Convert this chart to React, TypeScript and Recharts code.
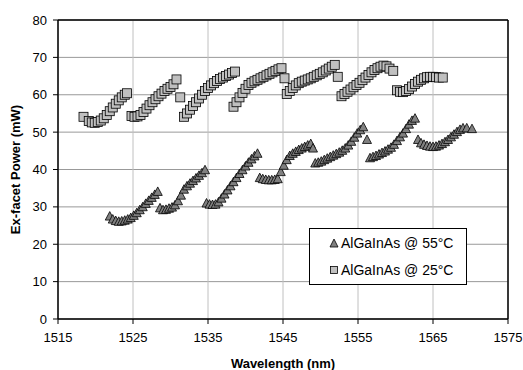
import React from "react";
import {
  ScatterChart,
  Scatter,
  XAxis,
  YAxis,
  CartesianGrid,
  Legend,
  ReferenceLine,
} from "recharts";

// wavelength (nm) / ex-facet power (mW)
const wl25 = [
  1518.4, 1519.1, 1519.5, 1519.9, 1520.3, 1520.7, 1521.1, 1521.5, 1521.9, 1522.3, 1522.7, 1523.1, 1523.5, 1523.9, 1524.2,
  1524.8, 1525.2, 1525.6, 1526.0, 1526.4, 1526.8, 1527.2, 1527.6, 1528.0, 1528.4, 1528.8, 1529.2, 1529.6, 1530.0, 1530.4, 1530.8, 1531.3,
  1531.8, 1532.2, 1532.6, 1533.0, 1533.4, 1533.8, 1534.2, 1534.6, 1535.0, 1535.4, 1535.8, 1536.2, 1536.6, 1537.0, 1537.4, 1537.8, 1538.2, 1538.6,
  1538.4, 1538.8, 1539.2, 1539.6, 1540.0, 1540.4, 1540.8, 1541.2, 1541.6, 1542.0, 1542.4, 1542.8, 1543.2, 1543.6, 1544.0, 1544.4, 1544.8, 1545.2,
  1545.5, 1545.9, 1546.3, 1546.7, 1547.1, 1547.5, 1547.9, 1548.3, 1548.7, 1549.1, 1549.5, 1549.9, 1550.3, 1550.7, 1551.1, 1551.5, 1551.9, 1552.3,
  1552.8, 1553.2, 1553.6, 1554.0, 1554.4, 1554.8, 1555.2, 1555.6, 1556.0, 1556.4, 1556.8, 1557.2, 1557.6, 1558.0, 1558.4, 1558.8, 1559.2, 1559.7,
  1560.2, 1560.6, 1561.0, 1561.4, 1561.8, 1562.2, 1562.6, 1563.0, 1563.4, 1563.8, 1564.2, 1564.6, 1565.0, 1565.4, 1565.8, 1566.3,
];
const p25 = [
  54.1, 53.0, 52.6, 52.5, 52.7, 53.1, 53.7, 54.6, 55.6, 56.6, 57.6, 58.5, 59.3, 60.0, 60.4,
  54.3, 54.1, 54.2, 54.6, 55.4, 56.3, 57.2, 58.0, 58.8, 59.6, 60.3, 61.0, 61.6, 62.1, 62.8, 64.1, 59.3,
  54.1, 55.0, 56.0, 57.0, 58.0, 59.0, 60.0, 61.0, 61.8, 62.5, 63.1, 63.7, 64.2, 64.6, 65.0, 65.4, 65.8, 66.2,
  56.8, 58.0, 59.3, 60.5, 61.6, 62.6, 63.2, 63.6, 64.0, 64.4, 64.8, 65.2, 65.6, 66.0, 66.4, 66.8, 67.1, 64.4,
  60.2, 61.0, 61.8, 62.5, 63.1, 63.5, 63.8, 64.1, 64.4, 64.8, 65.2, 65.6, 66.0, 66.5, 67.0, 67.5, 68.0, 64.8,
  59.6, 60.2, 60.8, 61.4, 62.0, 62.6, 63.2, 63.9, 64.6, 65.3, 66.0, 66.6, 67.1, 67.5, 67.8, 67.6, 67.0, 66.4,
  61.2, 60.8, 60.7, 61.0, 61.5, 62.2, 62.9, 63.5, 64.0, 64.4, 64.7, 64.8, 64.8, 64.7, 64.6, 64.6,
];

const wl55 = [
  1521.9, 1522.3, 1522.7, 1523.1, 1523.5, 1523.9, 1524.3, 1524.7, 1525.1, 1525.5, 1525.9, 1526.3, 1526.7, 1527.1, 1527.5, 1527.9, 1528.3,
  1528.6, 1529.0, 1529.4, 1529.8, 1530.2, 1530.6, 1531.0, 1531.4, 1531.8, 1532.2, 1532.6, 1533.0, 1533.4, 1533.8, 1534.2, 1534.6,
  1534.8, 1535.2, 1535.6, 1536.0, 1536.4, 1536.8, 1537.2, 1537.6, 1538.0, 1538.4, 1538.8, 1539.2, 1539.6, 1540.0, 1540.4, 1540.8, 1541.2, 1541.6,
  1541.9, 1542.3, 1542.7, 1543.1, 1543.5, 1543.9, 1544.3, 1544.7, 1545.1, 1545.5, 1545.9, 1546.3, 1546.7, 1547.1, 1547.5, 1547.9, 1548.3, 1548.7, 1549.0,
  1549.3, 1549.7, 1550.1, 1550.5, 1550.9, 1551.3, 1551.7, 1552.1, 1552.5, 1552.9, 1553.3, 1553.7, 1554.1, 1554.5, 1554.9, 1555.3, 1555.7, 1556.2,
  1556.6, 1557.0, 1557.4, 1557.8, 1558.2, 1558.6, 1559.0, 1559.4, 1559.8, 1560.2, 1560.6, 1561.0, 1561.4, 1561.8, 1562.2, 1562.6,
  1563.0, 1563.4, 1563.8, 1564.2, 1564.6, 1565.0, 1565.4, 1565.8, 1566.2, 1566.6, 1567.0, 1567.4, 1567.8, 1568.2, 1568.6, 1569.0, 1569.5, 1570.2,
];
const p55 = [
  27.4, 26.6, 26.2, 26.0, 26.1, 26.3, 26.6, 27.0, 27.6, 28.3, 29.1, 29.9, 30.8, 31.6, 32.4, 33.2, 34.0,
  29.6, 29.1, 29.2, 29.5, 29.8, 30.4, 31.5, 33.0, 34.6, 35.5, 36.2, 36.9, 37.6, 38.3, 39.0, 39.8,
  30.9, 30.6, 30.5, 30.6, 31.2, 32.2, 33.3, 34.4, 35.5, 36.6, 37.7, 38.8, 39.8, 40.8, 41.8, 42.7, 43.5, 44.2,
  37.7, 37.4, 37.2, 37.1, 37.1, 37.2, 37.4, 39.3, 41.0, 42.5, 43.6, 44.2, 44.7, 45.2, 45.6, 46.0, 46.4, 46.8, 45.6,
  41.6, 41.8, 42.1, 42.5, 42.9, 43.3, 43.7, 44.1, 44.5, 45.0, 45.6, 46.4, 47.4, 48.5, 49.6, 50.5, 51.3, 47.9,
  43.0, 43.3, 43.6, 44.0, 44.4, 44.8, 45.3, 45.8, 46.6, 47.6, 48.6, 49.6, 50.8, 52.0, 53.0, 53.6,
  47.9, 47.0, 46.6, 46.3, 46.1, 46.0, 46.1, 46.4, 46.8, 47.3, 47.9, 48.6, 49.3, 50.0, 50.6, 51.0, 51.0, 50.8,
];

const xTicks = [1515, 1525, 1535, 1545, 1555, 1565, 1575];
const yTicks = [0, 10, 20, 30, 40, 50, 60, 70, 80];

const data25 = wl25.map((x, i) => ({ x, y: p25[i] }));
const data55 = wl55.map((x, i) => ({ x, y: p55[i] }));

const FONT = "'Liberation Sans', Arial, sans-serif";

const SquareDot = (props: any) => {
  const { cx, cy } = props;
  if (cx == null || cy == null) return null;
  return (
    <rect x={cx - 4.5} y={cy - 4.5} width={9} height={9} fill="#c0c0c0" stroke="#000" strokeWidth={0.8} />
  );
};

const TriangleDot = (props: any) => {
  const { cx, cy } = props;
  if (cx == null || cy == null) return null;
  return (
    <path
      d={`M${cx},${cy - 5} L${cx + 4.5},${cy + 3.5} L${cx - 4.5},${cy + 3.5} Z`}
      fill="#808080"
      stroke="#000"
      strokeWidth={0.8}
    />
  );
};

const renderLegend = () => (
  <div
    style={{
      width: 158,
      height: 57,
      border: "1px solid #000",
      background: "#fff",
      fontFamily: FONT,
      fontSize: 14,
      color: "#000",
      boxSizing: "border-box",
      paddingLeft: 19,
      paddingTop: 4,
    }}
  >
    <div style={{ display: "flex", alignItems: "center", height: 20 }}>
      <svg width={10} height={10} style={{ marginRight: 2 }}>
        <path d="M5,1 L9,9 L1,9 Z" fill="#808080" stroke="#000" strokeWidth={0.8} />
      </svg>
      AlGaInAs @ 55°C
    </div>
    <div style={{ display: "flex", alignItems: "center", height: 20, marginTop: 7 }}>
      <svg width={10} height={10} style={{ marginRight: 2 }}>
        <rect x={1.5} y={1.5} width={7} height={7} fill="#c0c0c0" stroke="#000" strokeWidth={0.8} />
      </svg>
      AlGaInAs @ 25°C
    </div>
  </div>
);

export default function App() {
  return (
    <div style={{ position: "absolute", left: 0, top: 0, width: 523, height: 370, background: "#fff" }}>
      <ScatterChart
        width={523}
        height={370}
        margin={{ top: 20, right: 15, bottom: 0, left: 0 }}
        style={{ fontFamily: FONT }}
      >
        <CartesianGrid horizontal={true} vertical={false} stroke="#999" />
        <CartesianGrid horizontal={false} vertical={true} stroke="#c0c0c0" />
        <XAxis
          type="number"
          dataKey="x"
          domain={[1515, 1575]}
          ticks={xTicks}
          allowDataOverflow
          height={51}
          tickSize={5}
          tickMargin={9}
          tick={{ fontSize: 13, fill: "#000" }}
          axisLine={{ stroke: "#000", strokeWidth: 1.5 }}
          tickLine={{ stroke: "#000" }}
          label={{
            value: "Wavelength (nm)",
            position: "insideBottom",
            offset: 2,
            style: { fontSize: 13, fontWeight: "bold", fill: "#000" },
          }}
        />
        <YAxis
          type="number"
          dataKey="y"
          domain={[0, 80]}
          ticks={yTicks}
          allowDataOverflow
          width={58}
          tickSize={5}
          tickMargin={6}
          tick={{ fontSize: 13, fill: "#000" }}
          axisLine={{ stroke: "#000", strokeWidth: 1.5 }}
          tickLine={{ stroke: "#000" }}
          label={{
            value: "Ex-facet Power (mW)",
            angle: -90,
            position: "insideLeft",
            offset: 15,
            style: { fontSize: 13, fontWeight: "bold", fill: "#000", textAnchor: "middle" },
          }}
        />
        <ReferenceLine y={80} stroke="#000" strokeWidth={1.5} />
        <ReferenceLine x={1575} stroke="#000" strokeWidth={1.5} />
        <Legend
          layout="horizontal"
          verticalAlign="middle"
          align="center"
          content={renderLegend}
          wrapperStyle={{ left: 309, top: 228, width: 158, height: 57 }}
        />
        <Scatter name="AlGaInAs @ 25°C" data={data25} shape={SquareDot} isAnimationActive={false} />
        <Scatter name="AlGaInAs @ 55°C" data={data55} shape={TriangleDot} isAnimationActive={false} />
      </ScatterChart>
    </div>
  );
}
